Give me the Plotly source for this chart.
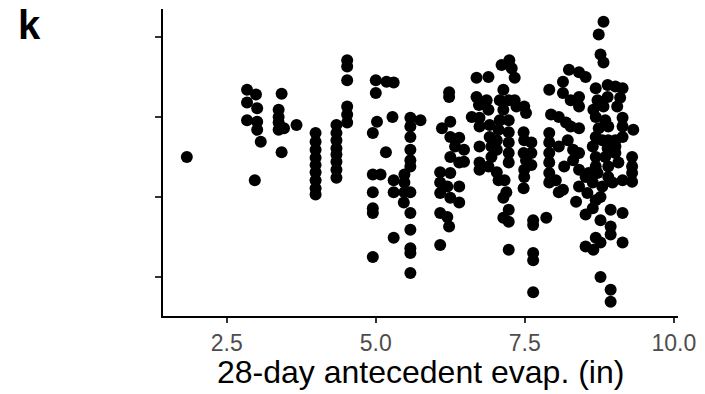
import plotly.graph_objects as go

# 28-day antecedent evaporation (in) and response (unlabelled y axis), grouped by column
evap_a = [1.83]
resp_a = [2.50]

evap_b = [2.84, 2.99, 2.84, 3.01, 2.84, 3.01, 3.01, 3.07, 2.97,
          3.42, 3.37, 3.37, 3.37, 3.37, 3.46, 3.42, 3.67]
resp_b = [3.34, 3.28, 3.18, 3.11, 2.96, 2.94, 2.84, 2.69, 2.21,
          3.29, 3.09, 3.00, 2.93, 2.84, 2.86, 2.56, 2.90]

evap_c = [3.99, 3.99, 3.99, 3.99, 3.99, 3.99, 3.99, 3.99, 3.99,
          4.34, 4.34, 4.34, 4.34, 4.34, 4.34, 4.34, 4.34,
          4.52, 4.52, 4.52, 4.52, 4.52, 4.52]
resp_c = [2.80, 2.69, 2.59, 2.49, 2.40, 2.31, 2.21, 2.11, 2.03,
          2.90, 2.80, 2.71, 2.61, 2.53, 2.44, 2.34, 2.24,
          3.71, 3.63, 3.46, 3.13, 3.03, 2.93]

evap_d = [5.00, 5.00, 5.18, 5.30, 5.28, 5.02, 4.95, 5.17, 4.95, 5.08, 5.30, 5.30,
          4.95, 4.95, 4.95, 5.30, 4.95]
resp_d = [3.46, 3.30, 3.44, 3.43, 3.00, 2.94, 2.80, 2.56, 2.28, 2.28, 2.21, 2.06,
          2.06, 1.86, 1.80, 1.49, 1.25]

evap_e = [5.58, 5.58, 5.58, 5.58, 5.58, 5.58, 5.75, 5.48, 5.48, 5.48, 5.58, 5.47,
          5.58, 5.58, 5.58, 5.58, 5.58]
resp_e = [2.99, 2.88, 2.75, 2.59, 2.46, 2.38, 2.96, 2.28, 2.18, 2.06, 2.06, 1.93,
          1.80, 1.59, 1.36, 1.30, 1.05]

evap_f = [6.23, 6.23, 6.11, 6.25, 6.25, 6.40, 6.33, 6.48, 6.25, 6.40, 6.48, 6.08,
          6.25, 6.08, 6.20, 6.40, 6.08, 6.25, 6.40, 6.08, 6.20, 6.23, 6.08]
resp_f = [3.31, 3.25, 2.86, 2.94, 2.75, 2.74, 2.63, 2.59, 2.50, 2.43, 2.44, 2.31,
          2.30, 2.18, 2.13, 2.13, 2.05, 1.99, 1.93, 1.80, 1.75, 1.63, 1.40]

evap_g = [6.69, 6.89, 6.69, 6.73, 6.86, 6.89, 6.61, 6.74, 6.74, 6.91, 6.91, 6.74,
          6.94, 6.94, 6.74, 6.74, 6.89]
resp_g = [3.49, 3.50, 3.25, 3.15, 3.21, 3.09, 3.00, 2.99, 2.88, 2.90, 2.75, 2.63,
          2.63, 2.50, 2.43, 2.34, 2.38]

evap_h = [7.11, 7.24, 7.28, 7.33, 7.14, 7.08, 7.23, 7.33, 7.14, 7.36, 7.49, 7.08,
          7.23, 7.52, 7.06, 7.23, 7.03, 7.03, 7.23, 7.23, 7.23, 7.03, 7.06, 7.16,
          7.48, 7.49, 7.61, 7.48, 7.61, 7.52, 7.61, 7.49, 7.49, 7.48, 7.19, 7.14,
          7.23, 7.14, 7.23, 7.23, 7.64, 7.64, 7.86, 7.64, 7.64, 7.64]
resp_h = [3.65, 3.71, 3.61, 3.49, 3.34, 3.21, 3.21, 3.21, 3.09, 3.13, 3.13, 2.96,
          2.96, 3.05, 2.84, 2.81, 2.71, 2.59, 2.68, 2.55, 2.43, 2.31, 2.21, 2.21,
          2.81, 2.71, 2.68, 2.55, 2.55, 2.46, 2.40, 2.34, 2.25, 2.11, 2.06, 1.99,
          1.84, 1.74, 1.69, 1.34, 1.71, 1.65, 1.74, 1.30, 1.21, 0.81]

evap_i = [7.91, 8.14, 8.24, 8.41, 8.52, 8.14, 8.41, 7.94, 8.07, 8.27, 8.41, 8.19,
          8.27, 8.41, 7.91, 7.91, 7.91, 8.07, 8.22, 8.31, 7.91, 7.91, 8.02, 8.16,
          8.31, 8.41, 8.41, 8.52, 8.14, 8.41, 7.91, 8.07, 8.36, 8.55, 8.52, 8.52]
resp_i = [3.34, 3.44, 3.59, 3.56, 3.50, 3.30, 3.25, 3.03, 3.00, 3.21, 3.13, 2.93,
          2.88, 2.86, 2.80, 2.68, 2.55, 2.63, 2.71, 2.59, 2.43, 2.30, 2.21, 2.38,
          2.46, 2.55, 2.34, 2.25, 2.09, 2.13, 2.18, 2.06, 1.94, 2.05, 1.78, 1.38]

evap_j = [8.82, 8.74, 8.77, 8.82, 8.69, 8.89, 9.02, 9.14, 8.72, 8.89, 9.10, 8.65,
          8.82, 9.05, 8.69, 8.85, 9.14, 8.74, 8.90, 9.14, 9.32, 8.69, 8.80, 8.90,
          9.02, 9.14, 8.64, 8.89, 9.02, 8.69, 8.85, 9.02, 9.30, 8.69, 8.90, 9.07,
          9.30, 8.57, 8.72, 8.90, 9.30, 8.64, 8.80, 8.97, 9.14, 9.30, 8.69, 8.77,
          8.64, 8.77, 8.94, 9.14, 8.94, 8.94, 8.69, 8.77, 8.65, 9.14, 8.77, 8.94, 8.94]
resp_j = [4.19, 4.03, 3.78, 3.68, 3.36, 3.40, 3.38, 3.36, 3.21, 3.25, 3.24, 3.09,
          3.13, 3.13, 3.00, 2.96, 2.99, 2.86, 2.88, 2.88, 2.84, 2.75, 2.71, 2.71,
          2.71, 2.75, 2.63, 2.61, 2.63, 2.50, 2.50, 2.55, 2.50, 2.38, 2.38, 2.43,
          2.38, 2.30, 2.30, 2.25, 2.30, 2.18, 2.13, 2.18, 2.21, 2.19, 1.96, 2.00,
          1.86, 1.71, 1.84, 1.80, 1.63, 1.53, 1.49, 1.43, 1.34, 1.43, 1.00, 0.84, 0.69]

x_ticks = [2.5, 5.0, 7.5, 10.0]
x_tick_labels = ["2.5", "5.0", "7.5", "10.0"]
y_ticks = [1, 2, 3, 4]
x_title = "28-day antecedent evap. (in)"
panel_label = "k"

evap = evap_a + evap_b + evap_c + evap_d + evap_e + evap_f + evap_g + evap_h + evap_i + evap_j
resp = resp_a + resp_b + resp_c + resp_d + resp_e + resp_f + resp_g + resp_h + resp_i + resp_j

FONT = "Liberation Sans, Arial, sans-serif"
L, R, T, B = 163, 22, 9, 78
PW, PH = 705 - L - R, 394 - T - B

fig = go.Figure(go.Scatter(
    x=evap, y=resp, mode="markers",
    marker=dict(size=12, color="black", line=dict(width=0)),
    hoverinfo="skip",
))

fig.update_layout(
    width=705, height=394,
    margin=dict(l=L, r=R, t=T, b=B),
    paper_bgcolor="white", plot_bgcolor="white",
    showlegend=False,
    font=dict(family=FONT, color="black"),
    xaxis=dict(
        range=[1.43, 10.07], tickvals=x_ticks, ticktext=x_tick_labels,
        showgrid=False, zeroline=False,
        showline=True, linecolor="black", linewidth=2,
        ticks="outside", ticklen=5, tickwidth=2, tickcolor="#333333",
        tickfont=dict(family=FONT, size=23, color="#4d4d4d"),
    ),
    yaxis=dict(
        range=[0.5125, 4.35], tickvals=y_ticks,
        showticklabels=False, showgrid=False, zeroline=False,
        showline=True, linecolor="black", linewidth=2,
        ticks="outside", ticklen=6, tickwidth=2, tickcolor="#333333",
    ),
    annotations=[
        dict(
            text=f"<b>{panel_label}</b>", xref="paper", yref="paper",
            x=(15 - L) / PW, y=1 + 8 / PH, xanchor="left", yanchor="top",
            showarrow=False, font=dict(family=FONT, size=40, color="black"),
        ),
        dict(
            text=x_title, xref="paper", yref="paper",
            x=0.5, y=-(372 - (394 - B)) / PH, xanchor="center", yanchor="middle",
            showarrow=False, font=dict(family=FONT, size=32, color="black"),
        ),
    ],
)

fig.write_html("out.html")
